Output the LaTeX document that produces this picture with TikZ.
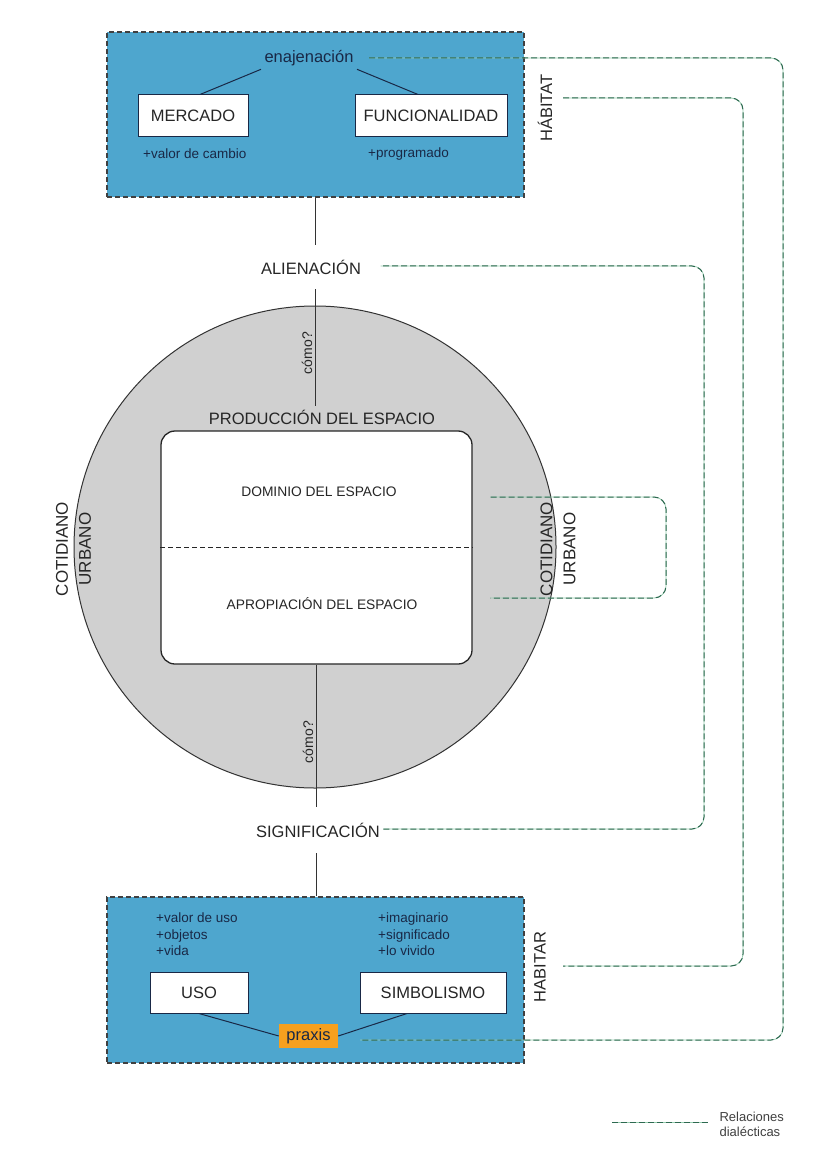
\documentclass[tikz,border=0pt]{standalone}
\usepackage{fontspec}
\setmainfont{Liberation Sans}
\usetikzlibrary{calc}
\definecolor{boxblue}{RGB}{78,166,206}
\definecolor{navy}{RGB}{25,40,70}
\definecolor{circgray}{RGB}{208,208,208}
\definecolor{dialdark}{RGB}{45,105,80}
\definecolor{diallight}{RGB}{150,205,175}
\definecolor{praxorange}{RGB}{246,160,30}
\begin{document}
\begin{tikzpicture}[x=1pt,y=-1pt,
  bigf/.style={font=\fontsize{16.5}{19}\selectfont},
  smallf/.style={font=\fontsize{13.5}{16.5}\selectfont},
  panel/.style={draw=black!75, dash pattern=on 5pt off 3pt, line width=1.2pt, fill=boxblue, minimum width=417pt, inner sep=0},
  wbox/.style={draw=navy, line width=1pt, fill=white, inner sep=0, bigf, text=black!85},
  dial/.style={draw=dialdark, line width=1pt, dash pattern=on 6pt off 3pt, rounded corners=12pt, preaction={draw=diallight, solid, line width=0.7pt}},
  plain/.style={draw=black!80, line width=0.9pt},
  navyline/.style={draw=navy, line width=1pt},
  rot/.style={rotate=90, bigf, text=black!85},
]
\fill[white] (0,0) rectangle (828,1155);
\useasboundingbox (0,0) rectangle (828,1155);

% top panel
\node[panel, minimum height=165pt] (topbox) at (315.5,114.5) {};
\node[bigf, text=navy] (enaj) at (309,58) {enajenación};
\node[wbox, minimum width=110pt, minimum height=42pt] (merc) at (193,116) {MERCADO};
\node[wbox, minimum width=152pt, minimum height=42pt] (func) at (431,116) {FUNCIONALIDAD};
\node[smallf, text=navy, anchor=west, inner sep=0] (vcambio) at (143,154) {+valor de cambio};
\node[smallf, text=navy, anchor=west, inner sep=0] (prog) at (368,154) {+programado};
\node[rot] (hab) at (545,108) {HÁBITAT};
\draw[navyline] (enaj.south west) -- ([xshift=7pt]merc.north);
\draw[navyline] (enaj.south east) -- ([xshift=-13pt]func.north);

% circle and production
\node[circle, draw=black!80, line width=1pt, fill=circgray, minimum size=482pt, inner sep=0] (circ) at (315,547) {};
\node[draw=black!85, line width=1.3pt, fill=white, rounded corners=14pt, minimum width=311pt, minimum height=233pt, inner sep=0] (prod) at (316.5,547.5) {};
\draw[black!85, line width=1pt, dash pattern=on 5pt off 3pt] (prod.west) -- (prod.east);
\node[bigf, text=black!85] (prodlbl) at (322,417) {PRODUCCIÓN DEL ESPACIO};
\node[font=\fontsize{13.8}{16}\selectfont, text=black!85] (dom) at (319,492) {DOMINIO DEL ESPACIO};
\node[font=\fontsize{13.8}{16}\selectfont, text=black!85] (apr) at (322,604) {APROPIACIÓN DEL ESPACIO};
\node[rot, align=center, inner sep=0, font=\fontsize{17}{23}\selectfont] (cotL) at (73.5,549) {COTIDIANO\\URBANO};
\node[rot, align=center, inner sep=0, font=\fontsize{17}{23}\selectfont] (cotR) at (558,549) {COTIDIANO\\URBANO};

\node[bigf, text=black!85, minimum height=44pt] (alien) at (311,267) {ALIENACIÓN};
\node[bigf, text=black!85, minimum height=46pt] (signif) at (318,830) {SIGNIFICACIÓN};
\node[rotate=90, font=\fontsize{14}{16}\selectfont, text=black!85] (como1) at (307,353) {cómo?};
\node[rotate=90, font=\fontsize{14}{16}\selectfont, text=black!85] (como2) at (308,742) {cómo?};

\draw[plain] (topbox.south) -- (topbox.south |- alien.north);
\draw[plain] (alien.south -| topbox.south) -- (topbox.south |- prodlbl.north);
\draw[plain] (prod.south) -- (prod.south |- signif.north);

% bottom panel
\node[panel, minimum height=166pt] (botbox) at (315.5,980) {};
\draw[plain] (signif.south -| prod.south) -- (botbox.north -| prod.south);
\node[smallf, text=navy, align=left, anchor=north west, inner sep=0] (usel) at (156,913) {+valor de uso\\+objetos\\+vida};
\node[smallf, text=navy, align=left, anchor=north west, inner sep=0] (simbl) at (378,913) {+imaginario\\+significado\\+lo vivido};
\node[wbox, minimum width=98pt, minimum height=41pt] (uso) at (199,992.5) {USO};
\node[wbox, minimum width=146pt, minimum height=41pt] (simb) at (433,992.5) {SIMBOLISMO};
\node[fill=praxorange, minimum width=59pt, minimum height=24pt, inner sep=0, bigf, text=navy] (prax) at (308.5,1036) {praxis};
\draw[navyline] (uso.south) -- (prax.west);
\draw[navyline] ([xshift=-26pt]simb.south) -- (prax.east);
\node[rot] (habr) at (540,967) {HABITAR};

% dialectic relations
\draw[dial] ([xshift=12pt]enaj.east) -- (783,58) -- (783,1040) -- ($(prax.east)+(22,4)$);
\draw[dial] ($(hab.center)+(18,-10)$) -- (743,98) -- (743,966) -- ($(habr.center)+(23,-1)$);
\draw[dial] ($(signif.east)+(0,-1)$) -- (704,829) -- (704,266) -- ($(alien.east)+(16,-1)$);
\draw[dial] ($(prod.east)+(18,-50.5)$) -- (666,497) -- (666,598) -- ($(prod.east)+(18,50.5)$);

% legend
\coordinate (lg1) at (612,1122);
\coordinate (lg2) at (708,1122);
\draw[dial] (lg1) -- (lg2);
\node[anchor=west, align=left, font=\fontsize{13}{15}\selectfont, text=black!75] (leg) at (716,1124) {Relaciones\\dialécticas};
\end{tikzpicture}
\end{document}
